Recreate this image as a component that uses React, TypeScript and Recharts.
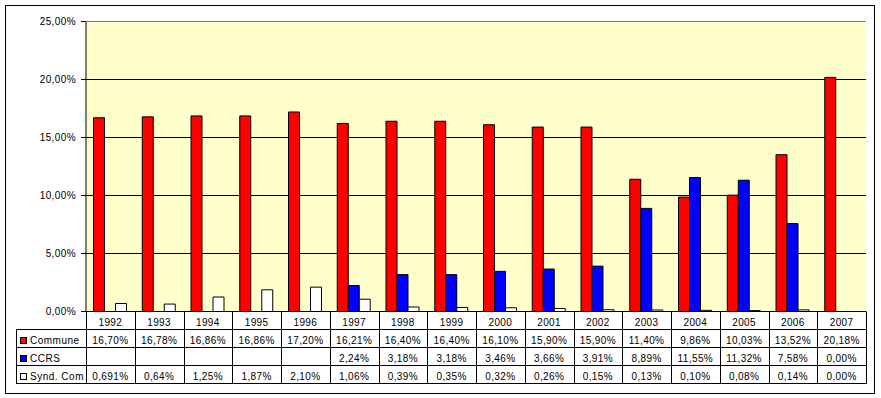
import { BarChart, Bar, XAxis, YAxis, CartesianGrid, ReferenceLine } from 'recharts';

const years = ['1992', '1993', '1994', '1995', '1996', '1997', '1998', '1999', '2000', '2001', '2002', '2003', '2004', '2005', '2006', '2007'];
const commune = [16.70, 16.78, 16.86, 16.86, 17.20, 16.21, 16.40, 16.40, 16.10, 15.90, 15.90, 11.40, 9.86, 10.03, 13.52, 20.18];
const ccrs = [null, null, null, null, null, 2.24, 3.18, 3.18, 3.46, 3.66, 3.91, 8.89, 11.55, 11.32, 7.58, 0.00];
const synd = [0.691, 0.64, 1.25, 1.87, 2.10, 1.06, 0.39, 0.35, 0.32, 0.26, 0.15, 0.13, 0.10, 0.08, 0.14, 0.00];
const yTicks = [0, 5, 10, 15, 20, 25];

const seriesNames = ['Commune', 'CCRS', 'Synd. Com'];
const seriesColors = ['#FF0000', '#0000FF', '#FFFFFF'];

const data = years.map((y, i) => ({ year: y, commune: commune[i], ccrs: ccrs[i], synd: synd[i] }));

// layout of the plot / data table (px); half pixels keep the 1px grid crisp
const W = 881, H = 398;
const PLOT_L = 86, PLOT_R = 866, PLOT_T = 21.5, PLOT_B = 311.5;
const BAND = (PLOT_R - PLOT_L) / years.length;
const ROW_LINES = [329, 347, 365, 383];
const BASELINES = [326, 344, 362, 380];
const FONT = '"Liberation Sans", Arial, sans-serif';

function pct(v: number | null) {
  if (v == null) return '';
  let s = v.toFixed(2);
  if (Number(s) !== v) s = String(v);
  return s.replace('.', ',') + '%';
}

const px = (v: number) => Math.round(v) + 0.5;

function TableTick(props: any) {
  const { x, index } = props;
  const half = BAND / 2;
  const cells = [years[index], pct(commune[index]), pct(ccrs[index]), pct(synd[index])];
  return (
    <g>
      {index === 0 && (
        <g>
          {ROW_LINES.map((ly) => (
            <line key={ly} x1={16.5} x2={PLOT_R + 0.5} y1={ly + 0.5} y2={ly + 0.5} stroke="#000" />
          ))}
          <line x1={16.5} x2={16.5} y1={ROW_LINES[0]} y2={ROW_LINES[3] + 1} stroke="#000" />
          <line x1={px(x - half)} x2={px(x - half)} y1={PLOT_B} y2={ROW_LINES[3] + 1} stroke="#000" />
          {seriesNames.map((n, r) => (
            <g key={n}>
              <rect x={20.5} y={BASELINES[r + 1] - 6.5} width={6} height={6} fill={seriesColors[r]} stroke="#000" />
              <text x={30} y={BASELINES[r + 1]} fontSize={10} fill="#000" letterSpacing={0.5}>{n}</text>
            </g>
          ))}
        </g>
      )}
      <line x1={px(x + half)} x2={px(x + half)} y1={PLOT_B} y2={ROW_LINES[3] + 1} stroke="#000" />
      {cells.map((c, r) => (
        <text key={r} x={x} y={BASELINES[r]} textAnchor="middle" fontSize={10} fill="#000" letterSpacing={0.4}>{c}</text>
      ))}
    </g>
  );
}

export default function App() {
  return (
    <div style={{ position: 'absolute', left: 0, top: 0, width: W, height: H, background: '#fff', fontFamily: FONT }}>
      <div style={{ position: 'absolute', left: 5, top: 5, width: 870, height: 389, boxSizing: 'border-box', border: '1px solid #000' }} />
      <div style={{ position: 'absolute', left: 0, top: 0 }}>
        <BarChart width={W} height={H} data={data} margin={{ top: PLOT_T, right: W - PLOT_R, left: 0, bottom: 0 }}
          barCategoryGap={7.5} barGap={0}>
          <CartesianGrid yAxisId="left" vertical={false} stroke="#000" fill="#FFFFCC" fillOpacity={1} />
          <XAxis dataKey="year" height={H - PLOT_B} interval={0} tickLine={false} tickSize={0} tickMargin={0}
            axisLine={{ stroke: '#000' }} tick={<TableTick />} />
          <YAxis yAxisId="left" width={PLOT_L} domain={[0, 25]} ticks={yTicks} tickFormatter={(v) => pct(v)}
            axisLine={{ stroke: '#000' }} tickLine={{ stroke: '#000' }} tickSize={5} tickMargin={5}
            tick={{ fontSize: 10, fill: '#000', fontFamily: FONT, letterSpacing: 0.4 }} />
          <YAxis yAxisId="right" orientation="right" width={0} domain={[0, 25]} tick={false} tickLine={false}
            axisLine={{ stroke: '#808080' }} />
          <ReferenceLine yAxisId="left" y={25} stroke="#808080" />
          <Bar yAxisId="left" dataKey="commune" fill={seriesColors[0]} stroke="#000" strokeWidth={1} isAnimationActive={false} />
          <Bar yAxisId="left" dataKey="ccrs" fill={seriesColors[1]} stroke="#000" strokeWidth={1} isAnimationActive={false} />
          <Bar yAxisId="left" dataKey="synd" fill={seriesColors[2]} stroke="#000" strokeWidth={1} isAnimationActive={false} />
        </BarChart>
      </div>
    </div>
  );
}
